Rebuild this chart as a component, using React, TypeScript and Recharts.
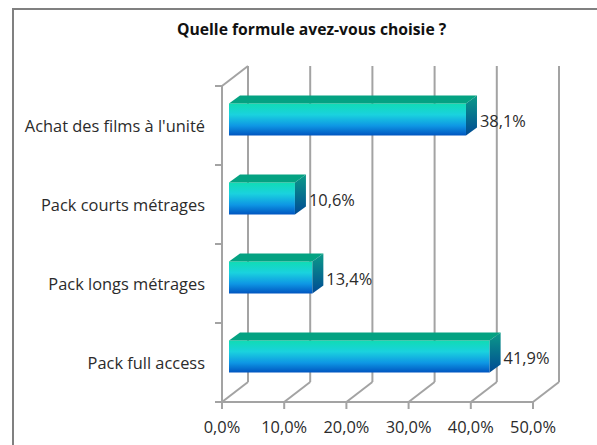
import { BarChart, Bar, XAxis, YAxis, CartesianGrid, LabelList } from 'recharts';

const categories = ["Achat des films à l'unité", 'Pack courts métrages', 'Pack longs métrages', 'Pack full access'];
const values = [38.1, 10.6, 13.4, 41.9];
const xTicks = [0, 10, 20, 30, 40, 50];

const data = categories.map((name, i) => ({ name, value: values[i] }));

const fr = (v: number) => v.toFixed(1).replace('.', ',') + '%';

const FONT = '"Open Sans", sans-serif';
const FONT_SIZE = 16.4;
const TEXT = '#2b2b2b';
const GRID = '#a3a3a3';

// fake 3D: back wall offset from the front plane
const WALL_X = 26;
const WALL_Y = 20;
// bars sit in the middle of the depth
const BAR_DX = 7;
const BAR_DY = 6.5;
const DEPTH_X = 11;
const DEPTH_Y = 8;
const BAND = 79;

function Box3D({ x, y, width, height }: any) {
  const l = x + BAR_DX;
  const r = x + width + BAR_DX;
  const t = y - BAR_DY;
  const b = t + height;
  return (
    <g>
      <rect x={l} y={t} width={r - l} height={height} fill="url(#frontFace)" />
      <polygon points={`${l},${t} ${l + DEPTH_X},${t - DEPTH_Y} ${r + DEPTH_X},${t - DEPTH_Y} ${r},${t}`} fill="#04a282" />
      <polygon points={`${r},${t} ${r + DEPTH_X},${t - DEPTH_Y} ${r + DEPTH_X},${b - DEPTH_Y} ${r},${b}`} fill="url(#sideFace)" />
    </g>
  );
}

function WallLine({ x1, y1, y2, index }: any) {
  return (
    <g key={`wall-${index}`} stroke={GRID} strokeWidth={2} fill="none">
      <line x1={x1 + WALL_X} y1={y1 - WALL_Y} x2={x1 + WALL_X} y2={y2 - WALL_Y} />
      <line x1={x1} y1={y2} x2={x1 + WALL_X} y2={y2 - WALL_Y} />
      {x1 < 230 && <line x1={x1} y1={y1} x2={x1 + WALL_X} y2={y1 - WALL_Y} />}
    </g>
  );
}

function CategoryTick({ x, y, payload, index }: any) {
  const axisX = x + 8;
  return (
    <g>
      <line x1={axisX - 7} x2={axisX} y1={y - BAND / 2} y2={y - BAND / 2} stroke={GRID} strokeWidth={2} />
      {index === categories.length - 1 && (
        <line x1={axisX - 7} x2={axisX} y1={y + BAND / 2} y2={y + BAND / 2} stroke={GRID} strokeWidth={2} />
      )}
      <text x={205} y={y} dy={6} textAnchor="end" fontFamily={FONT} fontSize={FONT_SIZE} fill={TEXT}>
        {payload.value}
      </text>
    </g>
  );
}

export default function App() {
  return (
    <div style={{ position: 'fixed', left: 0, top: 0, width: 597, height: 445, background: '#fff', overflow: 'hidden' }}>
      <div style={{ position: 'absolute', left: 12, top: 8, right: 0, bottom: 0, borderLeft: '2px solid #808080', borderTop: '2px solid #808080' }} />
      <div style={{ position: 'absolute', left: 177, top: 18, fontFamily: FONT, fontWeight: 700, fontSize: 15.7, color: '#111', whiteSpace: 'nowrap' }}>
        Quelle formule avez-vous choisie ?
      </div>
      <BarChart
        width={597}
        height={445}
        data={data}
        layout="vertical"
        barSize={32}
        margin={{ top: 86, right: 64, bottom: 0, left: 0 }}
        style={{ position: 'absolute', left: 0, top: 0 }}
      >
        <defs>
          <linearGradient id="frontFace" x1="0" y1="0" x2="0" y2="1">
            <stop offset="0%" stopColor="#10dcb4" />
            <stop offset="35%" stopColor="#1ad2de" />
            <stop offset="70%" stopColor="#0e96e4" />
            <stop offset="100%" stopColor="#0055c0" />
          </linearGradient>
          <linearGradient id="sideFace" x1="0" y1="0" x2="0" y2="1">
            <stop offset="0%" stopColor="#0c9a88" />
            <stop offset="100%" stopColor="#004a94" />
          </linearGradient>
        </defs>
        <CartesianGrid horizontal={false} vertical={WallLine as any} />
        <XAxis
          type="number"
          domain={[0, 50]}
          ticks={xTicks}
          tickFormatter={fr}
          height={43}
          interval={0}
          stroke={GRID}
          axisLine={{ stroke: GRID, strokeWidth: 2 }}
          tickLine={{ stroke: GRID, strokeWidth: 2 }}
          tickSize={7}
          tickMargin={12}
          tick={{ fontFamily: FONT, fontSize: FONT_SIZE, fill: TEXT }}
        />
        <YAxis
          type="category"
          dataKey="name"
          width={222}
          interval={0}
          axisLine={{ stroke: GRID, strokeWidth: 2 }}
          tickLine={false}
          tick={CategoryTick as any}
        />
        <Bar dataKey="value" shape={Box3D as any} isAnimationActive={false}>
          <LabelList
            dataKey="value"
            position="right"
            offset={21}
            dy={-5}
            formatter={fr as any}
            fontFamily={FONT}
            fontSize={FONT_SIZE}
            fill={TEXT}
          />
        </Bar>
      </BarChart>
    </div>
  );
}
